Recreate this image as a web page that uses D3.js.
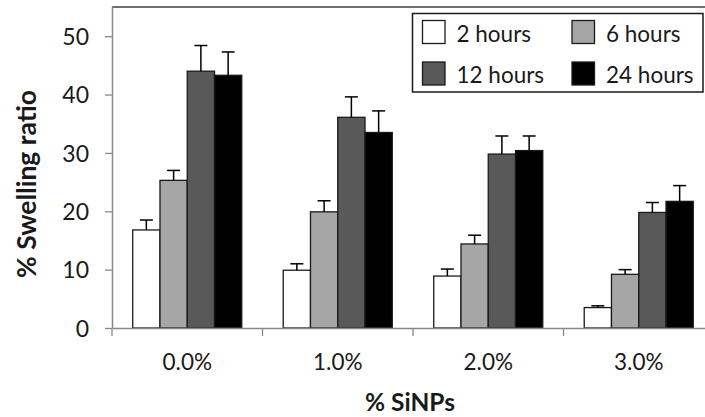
<!DOCTYPE html>
<html lang="en">
  <head>
    <meta charset="utf-8">
    <title>Swelling ratio</title>
    <style>
      body { margin: 0; background: #fff; }
      svg { display: block; font-family: Lato, "Open Sans", sans-serif; }
    </style>
    <script src="https://d3js.org/d3.v7.min.js"></script>
  </head>
  <body>
    <script>
    const categories = ["0.0%", "1.0%", "2.0%", "3.0%"]
    const series = ["2 hours", "6 hours", "12 hours", "24 hours"]
    const colors = ["#ffffff", "#a6a6a6", "#595959", "#000000"]
    // one array per time point, values for each % SiNPs
    const means = [
      [16.8, 9.9, 8.9, 3.5],
      [25.3, 19.9, 14.4, 9.2],
      [44.0, 36.1, 29.8, 19.8],
      [43.3, 33.5, 30.4, 21.7]
    ]
    const errorTops = [
      [18.5, 11.0, 10.1, 3.8],
      [27.0, 21.8, 15.9, 10.0],
      [48.4, 39.6, 32.9, 21.5],
      [47.3, 37.2, 32.9, 24.4]
    ]
    const yTicks = [0, 10, 20, 30, 40, 50]

    const W = 705, H = 417
    const plot = { left: 112, top: 7, right: 714, bottom: 328 }

    const svg = d3.select("body").append("svg")
      .attr("width", W)
      .attr("height", H)

    const x0 = d3.scaleBand()
      .domain(categories)
      .range([plot.left, plot.right])

    const x1 = d3.scaleBand()
      .domain(series)
      .range([0, x0.bandwidth()])
      .paddingOuter(0.76)

    const y = d3.scaleLinear()
      .domain([0, 55])
      .range([plot.bottom, plot.top])

    // top frame line
    svg.append("line")
      .attr("x1", plot.left).attr("x2", W)
      .attr("y1", plot.top).attr("y2", plot.top)
      .attr("stroke", "#404040")
      .attr("stroke-width", 1.5)

    // bars
    const groups = svg.append("g")
      .selectAll("g")
      .data(series)
      .join("g")

    groups.each(function(s, si) {
      const g = d3.select(this)
      categories.forEach((c, ci) => {
        const bx = x0(c) + x1(s)
        g.append("rect")
          .attr("x", bx)
          .attr("y", y(means[si][ci]))
          .attr("width", x1.bandwidth())
          .attr("height", y(0) - y(means[si][ci]))
          .attr("fill", colors[si])
          .attr("stroke", "#1a1a1a")
          .attr("stroke-width", 1.3)
        const cx = bx + x1.bandwidth() / 2
        g.append("line")
          .attr("x1", cx).attr("x2", cx)
          .attr("y1", y(means[si][ci])).attr("y2", y(errorTops[si][ci]))
          .attr("stroke", "#000").attr("stroke-width", 1.5)
        g.append("line")
          .attr("x1", cx - 6.5).attr("x2", cx + 6.5)
          .attr("y1", y(errorTops[si][ci])).attr("y2", y(errorTops[si][ci]))
          .attr("stroke", "#000").attr("stroke-width", 1.5)
      })
    })

    // y axis
    const yAxis = svg.append("g")
      .attr("transform", `translate(${plot.left},0)`)
      .call(d3.axisLeft(y).tickValues(yTicks).tickSize(7).tickPadding(16).tickSizeOuter(0))
    yAxis.select(".domain").attr("stroke", "#888").attr("stroke-width", 1.5)
      .attr("d", `M0.5,${plot.bottom}V${plot.top}`)
    yAxis.selectAll(".tick line").attr("stroke", "#888").attr("stroke-width", 1.3)
    yAxis.selectAll(".tick text")
      .attr("fill", "#1a1a1a")
      .style("font-size", "23px")
      .style("font-family", "Lato, sans-serif")
      .attr("dy", "0.36em")

    // x axis
    const xAxis = svg.append("g")
      .attr("transform", `translate(0,${plot.bottom})`)
      .call(d3.axisBottom(x0).tickSize(0).tickPadding(42))
    xAxis.select(".domain").attr("stroke", "#888").attr("stroke-width", 1.5)
    xAxis.selectAll(".tick text")
      .attr("fill", "#1a1a1a")
      .style("font-size", "22.5px")
      .style("font-family", "Lato, sans-serif")
      .attr("dy", "0")
    // category separators
    svg.append("g")
      .selectAll("line")
      .data(categories)
      .join("line")
      .attr("x1", d => x0(d)).attr("x2", d => x0(d))
      .attr("y1", plot.bottom).attr("y2", plot.bottom + 8)
      .attr("stroke", "#888").attr("stroke-width", 1.3)

    // axis titles
    svg.append("text")
      .attr("x", 410)
      .attr("y", 411)
      .attr("text-anchor", "middle")
      .style("font-size", "24.5px")
      .style("font-weight", "bold")
      .attr("fill", "#1a1a1a")
      .text("% SiNPs")

    svg.append("text")
      .attr("transform", "translate(36,184) rotate(-90)")
      .attr("text-anchor", "middle")
      .style("font-size", "26.5px")
      .style("font-weight", "bold")
      .attr("fill", "#1a1a1a")
      .text("% Swelling ratio")

    // legend
    const legend = svg.append("g")
    legend.append("rect")
      .attr("x", 412.5).attr("y", 13.5)
      .attr("width", 290.5).attr("height", 78.5)
      .attr("fill", "#fff")
      .attr("stroke", "#1a1a1a")
      .attr("stroke-width", 1.5)

    const legendCols = [422.5, 572]
    const legendRows = [20.5, 62]
    series.forEach((s, i) => {
      const lx = legendCols[i % 2], ly = legendRows[Math.floor(i / 2)]
      legend.append("rect")
        .attr("x", lx).attr("y", ly)
        .attr("width", 22.5).attr("height", 23)
        .attr("fill", colors[i])
        .attr("stroke", "#1a1a1a")
        .attr("stroke-width", 1.3)
      legend.append("text")
        .attr("x", lx + 34)
        .attr("y", ly + 21)
        .style("font-size", "22.5px")
        .attr("fill", "#1a1a1a")
        .text(s)
    })
    </script>
  </body>
</html>
